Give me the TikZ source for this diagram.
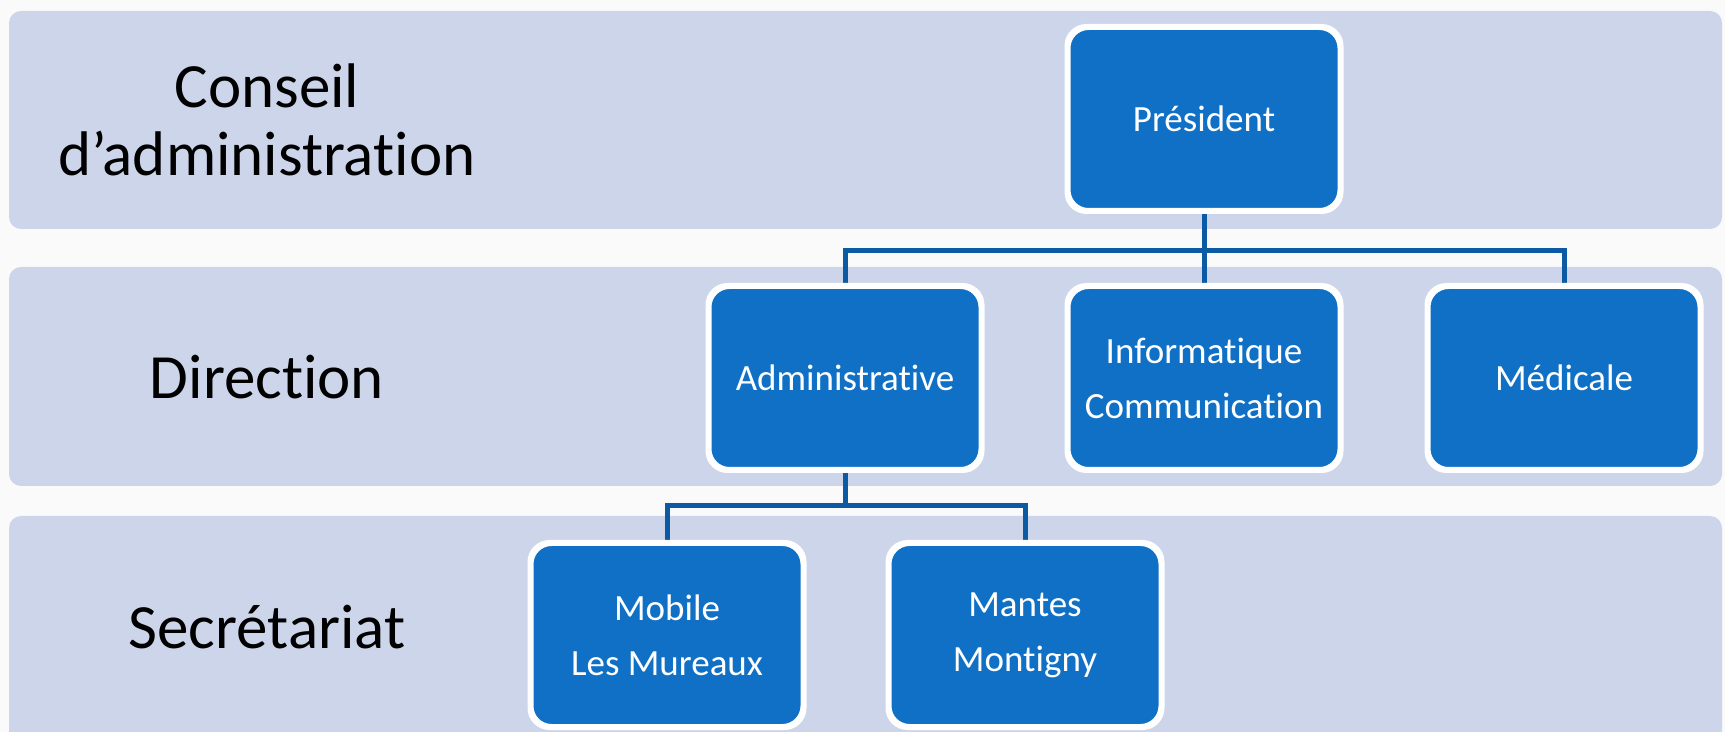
\documentclass[tikz,border=0pt]{standalone}
\usepackage{fontspec}
\setmainfont{Carlito}[Ligatures=NoCommon]
\definecolor{bandbg}{HTML}{CDD5EA}
\definecolor{boxblue}{HTML}{1070C6}
\definecolor{linkblue}{HTML}{0B5AA3}
\tikzset{
  band/.style={fill=bandbg, rounded corners=6pt},
  unit/.style={draw=white, line width=2pt, fill=boxblue, rounded corners=10pt,
    minimum width=135.5pt, minimum height=91pt, text=white, align=center,
    font=\fontsize{18.5}{27.5}\selectfont},
  level/.style={align=center, font=\fontsize{31.5}{34}\selectfont},
  link/.style={draw=linkblue, line width=2.5pt},
}

\begin{document}
\begin{tikzpicture}[x=0.5pt,y=-0.5pt]
\useasboundingbox (0,0) rectangle (1725,732);
\fill[white!98!black] (0,0) rectangle (1725,732);
\begin{scope}
\clip (0,0) rectangle (1725,732);
\fill[band] (9,11) rectangle (1722,229);
\fill[band] (9,267) rectangle (1722,486);
\fill[band] (9,516) rectangle (1722,745);
\end{scope}

\node[level] (conseil) at (267,120) {Conseil\\d’administration};
\node[level] (direction) at (267,377) {Direction};
\node[level] (secretariat) at (267,627) {Secrétariat};

\coordinate (bus1) at (0,251);
\coordinate (bus2) at (0,506);

\node[unit] (pres) at (1204,119) {Président};
\node[unit] (adm) at (845,378) {Administrative};
\node[unit] (info) at (1204,378) {Informatique\\Communication};
\node[unit] (med) at (1564,378) {Médicale};
\node[unit] (mob) at (667,635) {Mobile\\Les Mureaux};
\node[unit] (man) at (1025,635) {Mantes\\Montigny};

\draw[link] (pres.south) -- (info.north);
\draw[link] (adm.north) |- (bus1 -| pres) -| (med.north);
\draw[link] (adm.south) -- (adm.south |- bus2);
\draw[link] (mob.north) |- (bus2 -| adm) -| (man.north);

% redraw borders over the line ends
\foreach \n in {pres,adm,info,med,mob,man}
  \draw[white, line width=2pt, rounded corners=10pt]
    (\n.north west) rectangle (\n.south east);
\end{tikzpicture}
\end{document}
